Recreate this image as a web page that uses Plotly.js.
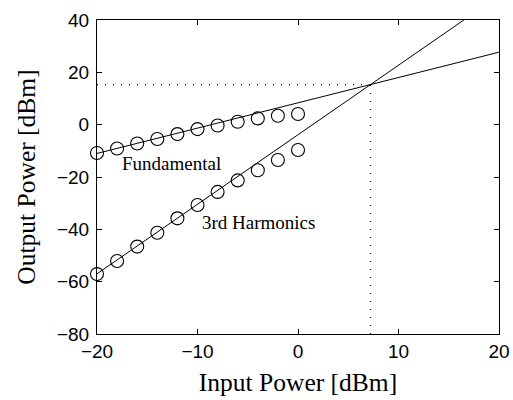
<!DOCTYPE html>
<html>
<head>
<meta charset="utf-8">
<script src="https://cdn.plot.ly/plotly-3.0.1.min.js"></script>
<style>html,body{margin:0;padding:0;background:#fff;}#chart{width:513px;height:400px;}</style>
</head>
<body>
<div id="chart"></div>
<script>
// Measured data (input power in dBm)
const inputPower = [-20, -18, -16, -14, -12, -10, -8, -6, -4, -2, 0];
const fundamental = [-10.8, -9.1, -7.2, -5.5, -3.6, -1.7, -0.3, 1.1, 2.4, 3.4, 4.1];
const thirdHarmonic = [-57.1, -52.1, -46.6, -41.3, -35.8, -30.7, -25.7, -21.3, -17.4, -13.5, -9.7];
// Fitted lines (extrapolated)
const fundLineX = [-20, 20];
const fundLineY = [-11, 27.7];
const harmLineX = [-20, 20];
const harmLineY = [-57, 49.3];
// Intercept point
const ipX = 7.2;
const ipY = 15.3;
const xTicks = [-20, -10, 0, 10, 20];
const yTicks = [-80, -60, -40, -20, 0, 20, 40];

const black = '#000';
const traces = [
  {x: fundLineX, y: fundLineY, mode: 'lines', line: {color: black, width: 1}, hoverinfo: 'skip'},
  {x: harmLineX, y: harmLineY, mode: 'lines', line: {color: black, width: 1}, hoverinfo: 'skip'},
  {x: [-20, ipX], y: [ipY, ipY], mode: 'lines', line: {color: black, width: 1.2, dash: '1px,7px'}},
  {x: [ipX, ipX], y: [-80, ipY], mode: 'lines', line: {color: black, width: 1.2, dash: '1px,7px'}},
  {x: inputPower, y: fundamental, mode: 'markers', marker: {symbol: 'circle-open', size: 13, color: black, line: {width: 1.1, color: black}}, cliponaxis: false},
  {x: inputPower, y: thirdHarmonic, mode: 'markers', marker: {symbol: 'circle-open', size: 13, color: black, line: {width: 1.1, color: black}}, cliponaxis: false}
];

const axisCommon = {
  showline: true, linecolor: black, linewidth: 1, mirror: 'ticks',
  ticks: 'inside', ticklen: 5, tickcolor: black, tickwidth: 1,
  showgrid: false, zeroline: false,
  tickfont: {family: 'Liberation Sans, Arial, sans-serif', size: 19, color: black}
};

const layout = {
  width: 513, height: 400,
  margin: {l: 97, r: 14, t: 20, b: 66},
  paper_bgcolor: '#fff', plot_bgcolor: '#fff',
  showlegend: false,
  xaxis: Object.assign({}, axisCommon, {
    range: [-20, 20], tickvals: xTicks, ticktext: xTicks.map(v => v < 0 ? '\u2212' + Math.abs(v) : String(v)),
    title: {text: 'Input Power [dBm]', font: {family: 'Liberation Serif, Times New Roman, serif', size: 25.5, color: black}, standoff: 12}
  }),
  yaxis: Object.assign({}, axisCommon, {
    range: [-80, 40], tickvals: yTicks, ticktext: yTicks.map(v => v < 0 ? '\u2212' + Math.abs(v) : String(v)),
    ticklabelstandoff: 3,
    title: {text: 'Output Power [dBm]', font: {family: 'Liberation Serif, Times New Roman, serif', size: 25.5, color: black}, standoff: 14}
  }),
  annotations: [
    {x: -12.6, y: -14.9, text: 'Fundamental', showarrow: false, font: {family: 'Liberation Serif, Times New Roman, serif', size: 19, color: black}},
    {x: -3.9, y: -37.2, text: '3rd Harmonics', showarrow: false, font: {family: 'Liberation Serif, Times New Roman, serif', size: 19, color: black}}
  ]
};

Plotly.newPlot('chart', traces, layout, {staticPlot: true, displayModeBar: false});
</script>
</body>
</html>
